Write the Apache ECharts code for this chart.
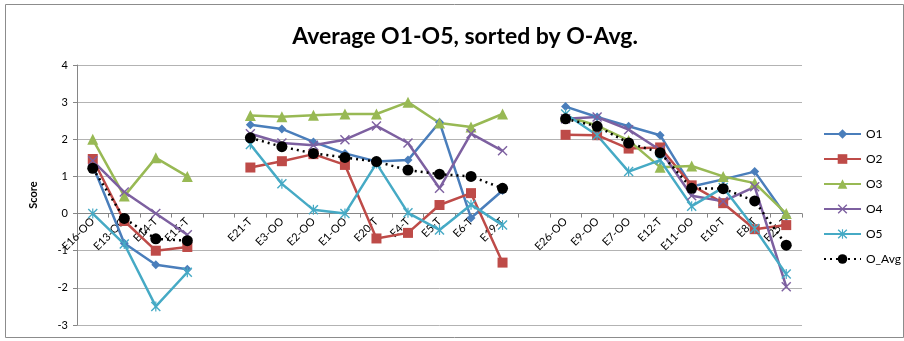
<!DOCTYPE html>
<html>
<head>
<meta charset="utf-8">
<script src="https://cdn.jsdelivr.net/npm/echarts@6/dist/echarts.min.js"></script>
<style>
html,body{margin:0;padding:0;background:#fff;}
#chart{width:904px;height:341px;}
</style>
</head>
<body>
<div id="chart"></div>
<script>
var categories = ['E16-OO','E13-OO','E14-T','E15-T','','E21-T','E3-OO','E2-OO','E1-OO','E20-T','E4-T','E5-T','E6-T','E19-T','','E26-OO','E9-OO','E7-OO','E12-T','E11-OO','E10-T','E8-T','E25-T'];
var O1 = [1.3, -0.8, -1.38, -1.5, '-', 2.39, 2.28, 1.93, 1.62, 1.40, 1.44, 2.46, -0.12, 0.62, '-', 2.88, 2.6, 2.35, 2.11, 0.73, 0.92, 1.13, -0.07];
var O2 = [1.47, -0.2, -1.0, -0.9, '-', 1.24, 1.41, 1.6, 1.31, -0.67, -0.52, 0.23, 0.55, -1.32, '-', 2.12, 2.11, 1.75, 1.78, 0.76, 0.28, -0.42, -0.31];
var O3 = [2.0, 0.47, 1.5, 1.0, '-', 2.64, 2.61, 2.65, 2.68, 2.68, 3.0, 2.44, 2.33, 2.68, '-', 2.62, 2.37, 1.97, 1.25, 1.28, 1.0, 0.82, 0.0];
var O4 = [1.42, 0.58, 0.0, -0.57, '-', 2.15, 1.9, 1.84, 1.99, 2.36, 1.9, 0.68, 2.15, 1.69, '-', 2.55, 2.6, 2.26, 1.71, 0.48, 0.33, 0.72, -1.97];
var O5 = [0.0, -0.82, -2.5, -1.58, '-', 1.86, 0.8, 0.1, 0.0, 1.35, 0.02, -0.44, 0.24, -0.31, '-', 2.68, 2.11, 1.13, 1.44, 0.2, 0.7, -0.4, -1.63];
var O_Avg = [1.22, -0.13, -0.68, -0.73, '-', 2.04, 1.8, 1.62, 1.51, 1.40, 1.17, 1.06, 1.0, 0.68, '-', 2.55, 2.35, 1.9, 1.64, 0.68, 0.67, 0.34, -0.85];
var seriesNames = ['O1','O2','O3','O4','O5','O_Avg'];
var yMin = -3, yMax = 4, yStep = 1;

var FONT = 'Lato, "Open Sans", sans-serif';
var xPath = 'path://M0,1 L1,0 L5,4 L9,0 L10,1 L6,5 L10,9 L9,10 L5,6 L1,10 L0,9 L4,5 Z';
var starPath = 'path://M0,1 L1,0 L5,4 L9,0 L10,1 L6,5 L10,9 L9,10 L5,6 L1,10 L0,9 L4,5 Z M4.4,0 L5.6,0 L5.6,10 L4.4,10 Z';

function mk(name, data, color, symbol, size, dashed) {
  return {
    name: name, type: 'line', data: data,
    symbol: symbol, symbolSize: size,
    connectNulls: false,
    lineStyle: { color: color, width: 2.5, type: dashed ? [2, 4] : 'solid' },
    itemStyle: { color: color },
    emphasis: { disabled: true },
    animation: false
  };
}

var chart = echarts.init(document.getElementById('chart'), null, { renderer: 'canvas' });
chart.setOption({
  backgroundColor: '#fff',
  animation: false,
  title: {
    text: 'Average O1-O5, sorted by O-Avg.',
    left: 460, top: 20, textAlign: 'center',
    textStyle: { fontFamily: FONT, fontWeight: 'bold', fontSize: 23, color: '#000' }
  },
  graphic: [{
    type: 'rect', silent: true,
    shape: { x: 5.5, y: 4.5, width: 898, height: 333 },
    style: { fill: 'none', stroke: '#8c8c8c', lineWidth: 1 }
  }],
  legend: {
    orient: 'vertical', left: 818, top: 123,
    itemWidth: 37, itemHeight: 12, itemGap: 13,
    data: seriesNames,
    textStyle: { fontFamily: FONT, fontSize: 12, color: '#000' }
  },
  grid: { left: 77, right: 102, top: 65, bottom: 16, containLabel: false, outerBoundsMode: 'none' },
  xAxis: {
    type: 'category', data: categories, boundaryGap: true,
    axisLine: { onZero: false, lineStyle: { color: '#868686', width: 1 } },
    axisTick: { show: true, length: 4, lineStyle: { color: '#868686' } },
    axisLabel: { interval: 0, rotate: 45, margin: 6, fontFamily: FONT, fontSize: 11, color: '#000' },
    splitLine: { show: false }
  },
  yAxis: {
    type: 'value', min: yMin, max: yMax, interval: yStep,
    name: 'Score', nameLocation: 'middle', nameGap: 38, nameRotate: 90,
    nameTextStyle: { fontFamily: FONT, fontWeight: 'bold', fontSize: 11, color: '#000' },
    axisLine: { show: true, lineStyle: { color: '#868686' } },
    axisTick: { show: true, length: 4, lineStyle: { color: '#868686' } },
    axisLabel: { margin: 9, fontFamily: FONT, fontSize: 11, color: '#000' },
    splitLine: { show: true, lineStyle: { color: '#b3b3b3', width: 1 } }
  },
  series: [
    mk('O1', O1, '#4a7ebb', 'diamond', 9, false),
    mk('O2', O2, '#be4b48', 'rect', 10, false),
    mk('O3', O3, '#98b954', 'triangle', 11, false),
    mk('O4', O4, '#7d60a0', xPath, 10, false),
    mk('O5', O5, '#46aac5', starPath, 10, false),
    mk('O_Avg', O_Avg, '#000000', 'circle', 11, true)
  ]
});
// place the category axis on the zero line, using the value axis' own scale
var zeroY = chart.convertToPixel({ yAxisIndex: 0 }, 0);
var bottomY = chart.convertToPixel({ yAxisIndex: 0 }, yMin);
chart.setOption({ xAxis: { offset: -(bottomY - zeroY) } });
</script>
</body>
</html>
